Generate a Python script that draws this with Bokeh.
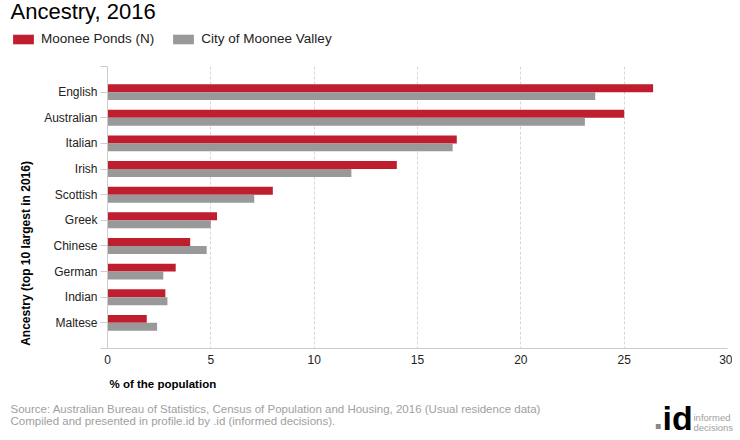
from bokeh.plotting import figure
from bokeh.layouts import column, row
from bokeh.models import Range1d, FixedTicker, Legend, LegendItem, ColumnDataSource
from bokeh.core.properties import value
from bokeh.transform import dodge
from bokeh.embed import file_html
from bokeh.resources import INLINE

# ---- data ----
categories = ["English", "Australian", "Italian", "Irish", "Scottish",
              "Greek", "Chinese", "German", "Indian", "Maltese"]
moonee_ponds = [26.4, 25.0, 16.9, 14.0, 8.0, 5.3, 4.0, 3.3, 2.8, 1.9]
moonee_valley = [23.6, 23.1, 16.7, 11.8, 7.1, 5.0, 4.8, 2.7, 2.9, 2.4]
series_names = ["Moonee Ponds (N)", "City of Moonee Valley"]
x_ticks = [0, 5, 10, 15, 20, 25, 30]

RED = "#BE1E2D"
GREY = "#999999"
FONT = "Liberation Sans"
TOTAL_W = 732


def blank(w, h, y0, y1):
    """A figure whose frame covers the whole canvas; y in page pixels."""
    f = figure(width=w, height=h, output_backend="svg", toolbar_location=None,
               x_range=Range1d(0, w), y_range=Range1d(y1, y0),
               x_axis_type=None, y_axis_type=None,
               min_border_left=0, min_border_right=0, min_border_top=0,
               min_border_bottom=0, outline_line_color=None)
    f.grid.grid_line_color = None
    return f


def txt(f, x, y, s, size, color="#000000", bold=False, baseline="middle",
        align="left", angle=0.0):
    f.text(x=[x], y=[y], text=[s], text_font=value(FONT),
           text_font_size=value(size), text_color=color,
           text_font_style="bold" if bold else "normal",
           text_baseline=baseline, text_align=align, angle=angle)


# ---- header: title + legend ----
HEAD_H = 56
head = blank(TOTAL_W, HEAD_H, 0, HEAD_H)
txt(head, 10, 11, "Ancestry, 2016", "22px")
d1 = head.hbar(y=[-100], right=[0], left=0, height=1, fill_color=RED, line_color=None)
d2 = head.hbar(y=[-100], right=[0], left=0, height=1, fill_color=GREY, line_color=None)
legend = Legend(items=[LegendItem(label=series_names[0], renderers=[d1]),
                       LegendItem(label=series_names[1], renderers=[d2])],
                orientation="horizontal", location="bottom_left",
                glyph_width=26, glyph_height=12, label_height=12,
                label_standoff=5, spacing=16, padding=0, margin=10,
                label_text_font=FONT, label_text_font_size="13.5px",
                label_text_color="#222222", label_text_baseline="middle",
                border_line_alpha=0, background_fill_alpha=0)
head.add_layout(legend)

# ---- main chart ----
MAIN_TOP, MAIN_BOT = HEAD_H, 370
STRIP_W = 35
MAIN_W = TOTAL_W - STRIP_W
MAIN_H = MAIN_BOT - MAIN_TOP

src = ColumnDataSource(dict(pos=list(range(len(categories))),
                            a=moonee_ponds, b=moonee_valley))

p = figure(width=MAIN_W, height=MAIN_H, output_backend="svg",
           toolbar_location=None,
           x_range=Range1d(0, 30), y_range=Range1d(len(categories), -1),
           min_border_left=107 - STRIP_W, min_border_top=66 - MAIN_TOP,
           min_border_right=TOTAL_W - 727, min_border_bottom=MAIN_BOT - 348,
           outline_line_color=None)

bar_h = 0.31
p.hbar(y=dodge("pos", -bar_h / 2, range=p.y_range), right="a", left=0,
       height=bar_h, source=src, fill_color=RED, line_color=None)
p.hbar(y=dodge("pos", bar_h / 2, range=p.y_range), right="b", left=0,
       height=bar_h, source=src, fill_color=GREY, line_color=None)

ya = p.yaxis[0]
ya.ticker = FixedTicker(ticks=list(range(-1, len(categories) + 1)))
ov = {i: c for i, c in enumerate(categories)}
ov[-1] = ""
ov[len(categories)] = ""
ya.major_label_overrides = ov
ya.axis_line_color = "#cccccc"
ya.major_tick_line_color = "#cccccc"
ya.major_tick_out = 7
ya.major_tick_in = 0
ya.minor_tick_line_color = None
ya.major_label_standoff = 3
ya.major_label_text_font = FONT
ya.major_label_text_font_size = "12px"
ya.major_label_text_color = "#222222"

xa = p.xaxis[0]
xa.ticker = FixedTicker(ticks=x_ticks)
xa.axis_line_color = "#cccccc"
xa.major_tick_line_color = None
xa.major_tick_out = 0
xa.major_tick_in = 0
xa.minor_tick_line_color = None
xa.major_label_standoff = 6
xa.major_label_text_font = FONT
xa.major_label_text_font_size = "12px"
xa.major_label_text_color = "#222222"

p.ygrid.grid_line_color = None
p.xgrid.grid_line_color = "#d6d6d6"
p.xgrid.grid_line_dash = "3 2"

# left strip with the rotated y-axis title
strip = blank(STRIP_W, MAIN_H, MAIN_TOP, MAIN_BOT)
txt(strip, 25, 367, "Ancestry (top 10 largest in 2016)", "12px", bold=True,
    angle=1.5707963)

# ---- footer ----
FOOT_TOP, FOOT_BOT = MAIN_BOT, 440
foot = blank(740, FOOT_BOT - FOOT_TOP, FOOT_TOP, FOOT_BOT)
txt(foot, 109, 383, "% of the population", "11.5px", bold=True)
txt(foot, 10, 408, "Source: Australian Bureau of Statistics, Census of Population and Housing, 2016 (Usual residence data)",
    "11.5px", color="#a0a0a0")
txt(foot, 10, 420, "Compiled and presented in profile.id by .id (informed decisions).",
    "11.5px", color="#a0a0a0")
txt(foot, 653, 417, ".", "34px", color="#888888", bold=True)
txt(foot, 662, 417, "id", "34px", color="#000000", bold=True)
txt(foot, 693, 417, "informed", "9.5px", color="#a0a0a0")
txt(foot, 693, 427, "decisions", "9.5px", color="#a0a0a0")

layout = column(head, row(strip, p, spacing=0), foot, spacing=0)
open("out.html", "w").write(file_html(layout, INLINE))
